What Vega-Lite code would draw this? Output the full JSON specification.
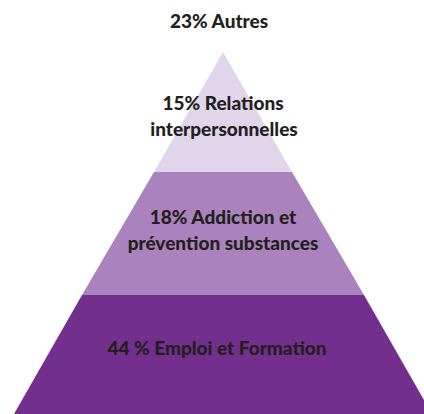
{
  "$schema": "https://vega.github.io/schema/vega-lite/v6.json",
  "width": 424,
  "height": 414,
  "padding": 0,
  "autosize": {"type": "fit", "contains": "padding"},
  "background": "white",
  "config": {"view": {"stroke": null}},
  "datasets": {
    "shapes": [
      {"layer": "Emploi et Formation", "x": 14, "top": 414, "bottom": 414},
      {"layer": "Emploi et Formation", "x": 82, "top": 295, "bottom": 414},
      {"layer": "Emploi et Formation", "x": 364, "top": 295, "bottom": 414},
      {"layer": "Emploi et Formation", "x": 432, "top": 414, "bottom": 414},
      {"layer": "Addiction", "x": 82, "top": 295, "bottom": 295},
      {"layer": "Addiction", "x": 154, "top": 172, "bottom": 295},
      {"layer": "Addiction", "x": 292, "top": 172, "bottom": 295},
      {"layer": "Addiction", "x": 364, "top": 295, "bottom": 295},
      {"layer": "Relations", "x": 154, "top": 172, "bottom": 172},
      {"layer": "Relations", "x": 223, "top": 52, "bottom": 172},
      {"layer": "Relations", "x": 292, "top": 172, "bottom": 172}
    ],
    "labels": [
      {"x": 219, "y": 22, "line": "23% Autres"},
      {"x": 223, "y": 104, "line": "15% Relations"},
      {"x": 224, "y": 130, "line": "interpersonnelles"},
      {"x": 223, "y": 218, "line": "18% Addiction et"},
      {"x": 223, "y": 244, "line": "prévention substances"},
      {"x": 217, "y": 349, "line": "44 % Emploi et Formation"}
    ]
  },
  "layer": [
    {
      "data": {"name": "shapes"},
      "mark": {"type": "area", "clip": true, "interpolate": "linear"},
      "encoding": {
        "x": {"field": "x", "type": "quantitative", "scale": {"domain": [0, 424], "nice": false, "zero": false}, "axis": null},
        "y": {"field": "top", "type": "quantitative", "scale": {"domain": [0, 414], "nice": false, "reverse": true}, "axis": null},
        "y2": {"field": "bottom"},
        "color": {
          "field": "layer",
          "type": "nominal",
          "scale": {"domain": ["Emploi et Formation", "Addiction", "Relations"], "range": ["#722f8e", "#aa82bd", "#e0d5ea"]},
          "legend": null
        },
        "detail": {"field": "layer"}
      }
    },
    {
      "data": {"name": "labels"},
      "mark": {"type": "text", "font": "Lato", "fontWeight": 900, "fontSize": 19, "color": "#231f20", "align": "center", "baseline": "middle"},
      "encoding": {
        "x": {"field": "x", "type": "quantitative"},
        "y": {"field": "y", "type": "quantitative"},
        "text": {"field": "line"}
      }
    }
  ]
}
